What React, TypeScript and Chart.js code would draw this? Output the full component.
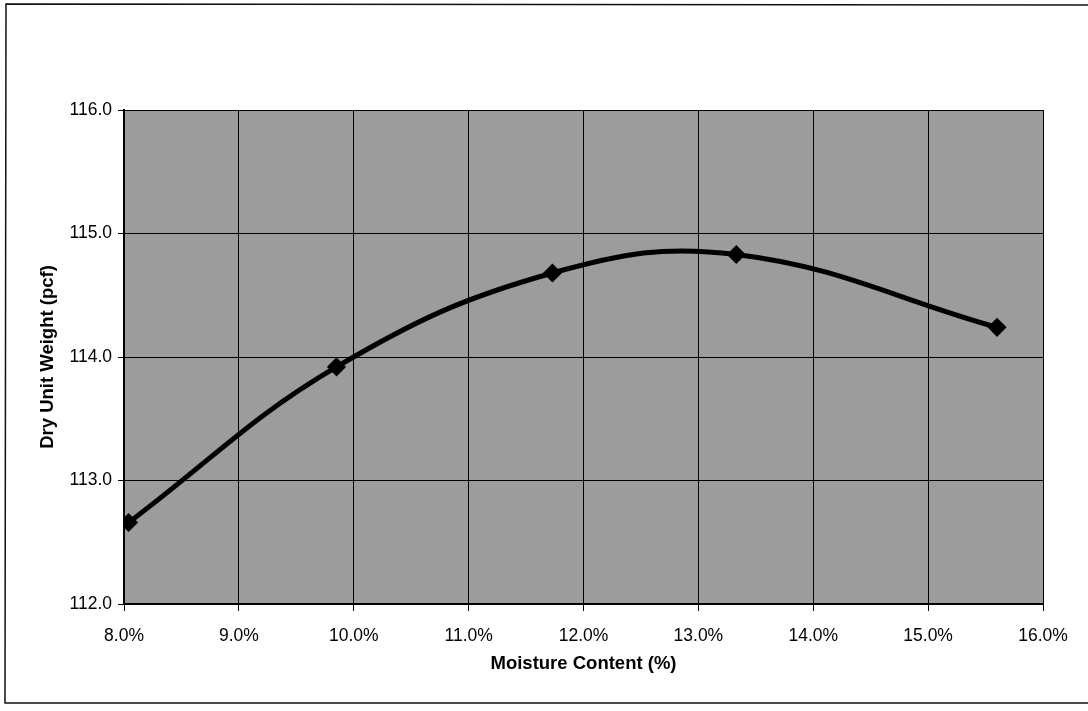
import React, { useEffect, useRef } from "react";
import { Chart, registerables } from "chart.js";

Chart.register(...registerables);

const moistureContent = [8.04, 9.85, 11.73, 13.33, 15.6];
const dryUnitWeight = [112.66, 113.92, 114.68, 114.83, 114.24];
const xTitle = "Moisture Content (%)";
const yTitle = "Dry Unit Weight (pcf)";
const xMin = 8;
const xMax = 16;
const yMin = 112;
const yMax = 116;

const FONT = "'Liberation Sans', Arial, Helvetica, sans-serif";

const framePlugin = {
  id: "frameAndBg",
  beforeDraw(chart: any) {
    const { ctx, chartArea } = chart;
    ctx.save();
    ctx.fillStyle = "#ffffff";
    ctx.fillRect(0, 0, chart.width, chart.height);
    ctx.strokeStyle = "#111111";
    ctx.lineWidth = 1.5;
    ctx.beginPath();
    ctx.moveTo(1092, 5);
    ctx.lineTo(6, 4);
    ctx.lineTo(5, 703);
    ctx.lineTo(1092, 703);
    ctx.stroke();
    ctx.fillStyle = "#9c9c9c";
    ctx.fillRect(
      chartArea.left,
      chartArea.top,
      chartArea.right - chartArea.left,
      chartArea.bottom - chartArea.top
    );
    ctx.restore();
  },
};

export default function App() {
  const canvasRef = useRef<HTMLCanvasElement | null>(null);

  useEffect(() => {
    if (!canvasRef.current) return;
    const chart = new Chart(canvasRef.current, {
      type: "scatter",
      data: {
        datasets: [
          {
            label: yTitle,
            data: moistureContent.map((x, i) => ({ x, y: dryUnitWeight[i] })),
            showLine: true,
            borderColor: "#000000",
            borderWidth: 5,
            tension: 0.4,
            pointStyle: "rectRot",
            pointRadius: 6,
            pointBackgroundColor: "#000000",
            pointBorderColor: "#000000",
          },
        ],
      },
      options: {
        animation: false,
        responsive: false,
        maintainAspectRatio: false,
        layout: { padding: { left: 8, top: 110, right: 45, bottom: 10 } },
        plugins: {
          legend: { display: false },
          tooltip: { enabled: false },
        },
        scales: {
          x: {
            type: "linear",
            min: xMin,
            max: xMax,
            afterFit(scale: any) {
              scale.height = 97;
            },
            ticks: {
              stepSize: 1,
              color: "#000",
              padding: 15,
              font: { family: FONT, size: 17.5 },
              callback: (v: any) => Number(v).toFixed(1) + "%",
            },
            grid: {
              color: "#000",
              lineWidth: 1,
              drawTicks: true,
              tickLength: 7,
              tickColor: "#000",
            },
            border: { display: true, color: "#000", width: 2 },
            title: {
              display: true,
              text: xTitle,
              color: "#000",
              font: { family: FONT, size: 18.5, weight: "bold" },
              padding: { top: 0, bottom: 26 },
            },
          },
          y: {
            type: "linear",
            min: yMin,
            max: yMax,
            afterFit(scale: any) {
              scale.width = 116;
            },
            ticks: {
              stepSize: 1,
              color: "#000",
              padding: 6,
              font: { family: FONT, size: 17.5 },
              callback: (v: any) => Number(v).toFixed(1),
            },
            grid: {
              color: "#000",
              lineWidth: 1,
              drawTicks: true,
              tickLength: 6,
              tickColor: "#000",
            },
            border: { display: true, color: "#000", width: 2 },
            title: {
              display: true,
              text: yTitle,
              color: "#000",
              font: { family: FONT, size: 18.5, weight: "bold" },
              padding: { top: 29, bottom: 0 },
            },
          },
        },
      },
      plugins: [framePlugin],
    } as any);
    return () => chart.destroy();
  }, []);

  return (
    <div style={{ position: "fixed", left: 0, top: 0, width: 1088, height: 711 }}>
      <canvas ref={canvasRef} width={1088} height={711} style={{ display: "block" }} />
    </div>
  );
}
